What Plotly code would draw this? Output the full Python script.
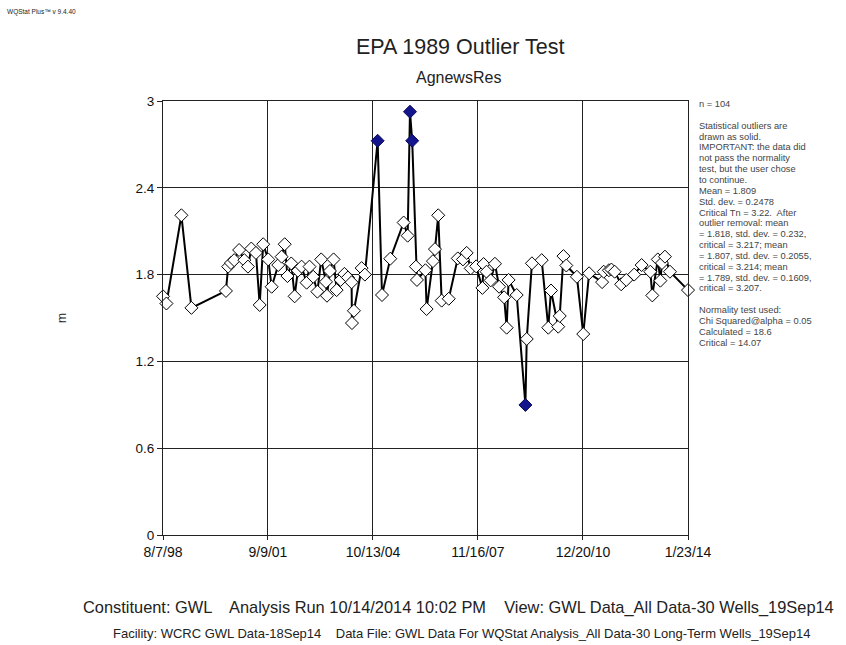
import plotly.graph_objects as go

# Groundwater level observations (m) for well AgnewsRes
dates = [
    "1998-08-07", "1998-09-13", "1999-02-21", "1999-06-09", "2000-06-14",
    "2000-07-08", "2000-08-07", "2000-09-11", "2000-11-03", "2000-12-29",
    "2001-02-06", "2001-03-14", "2001-05-03", "2001-06-12", "2001-07-20",
    "2001-09-12", "2001-10-19", "2001-12-29", "2002-02-03", "2002-03-08",
    "2002-04-07", "2002-05-18", "2002-06-23", "2002-07-28", "2002-09-06",
    "2002-10-30", "2002-11-30", "2003-01-09", "2003-02-23", "2003-04-05",
    "2003-05-26", "2003-06-06", "2003-07-08", "2003-08-16", "2003-09-18",
    "2003-10-31", "2003-12-11", "2004-01-17", "2004-02-26", "2004-03-01",
    "2004-03-22", "2004-06-13", "2004-07-18", "2004-12-02", "2005-01-18",
    "2005-04-17", "2005-09-08", "2005-10-21", "2005-11-15", "2005-12-09",
    "2006-01-18", "2006-01-29", "2006-04-30", "2006-05-13", "2006-07-20",
    "2006-08-11", "2006-09-15", "2006-10-22", "2007-01-06", "2007-04-13",
    "2007-06-08", "2007-07-18", "2007-08-30", "2007-10-28", "2008-01-03",
    "2008-01-16", "2008-02-17", "2008-04-01", "2008-05-17", "2008-07-01",
    "2008-08-24", "2008-09-20", "2008-10-11", "2009-01-06", "2009-04-10",
    "2009-04-24", "2009-06-19", "2009-10-02", "2009-12-12", "2010-01-10",
    "2010-03-29", "2010-04-14", "2010-05-24", "2010-06-24", "2010-10-16",
    "2010-12-23", "2011-02-24", "2011-07-14", "2011-07-31", "2011-09-25",
    "2011-10-22", "2011-11-26", "2012-02-04", "2012-03-30", "2012-06-23",
    "2012-09-11", "2012-12-14", "2013-01-04", "2013-03-04", "2013-04-01",
    "2013-04-18", "2013-05-20", "2013-07-13", "2014-01-23",
]
gwl = [
    1.65, 1.60, 2.21, 1.57, 1.687,
    1.855, 1.88, 1.90, 1.97, 1.90,
    1.855, 1.98, 1.95, 1.59, 2.01,
    1.905, 1.716, 1.866, 1.924, 2.01,
    1.79, 1.877, 1.65, 1.827, 1.855,
    1.744, 1.855, 1.785, 1.682, 1.905,
    1.75, 1.654, 1.825, 1.905, 1.693,
    1.763, 1.805, 1.78, 1.747, 1.465,
    1.55, 1.845, 1.80, 2.725, 1.659,
    1.91, 2.16, 2.069, 2.926, 2.725,
    1.855, 1.763, 1.83, 1.562, 1.893,
    1.976, 2.21, 1.62, 1.633, 1.912,
    1.905, 1.95, 1.843, 1.857, 1.708,
    1.873, 1.82, 1.76, 1.875, 1.716,
    1.643, 1.433, 1.763, 1.659, 0.899,
    1.355, 1.878, 1.90, 1.433, 1.69,
    1.44, 1.514, 1.928, 1.863, 1.785,
    1.389, 1.809, 1.748, 1.82, 1.83,
    1.835, 1.82, 1.733, 1.763, 1.80,
    1.866, 1.82, 1.656, 1.905, 1.758,
    1.88, 1.924, 1.82, 1.693,
]
# Observations flagged by the EPA 1989 outlier test
outlier_dates = ["2004-12-02", "2005-11-15", "2005-12-09", "2009-04-10"]

x_tick_vals = ["1998-08-07", "2001-09-09", "2004-10-13", "2007-11-16", "2010-12-20", "2014-01-23"]
x_tick_text = ["8/7/98", "9/9/01", "10/13/04", "11/16/07", "12/20/10", "1/23/14"]
y_tick_vals = [0, 0.6, 1.2, 1.8, 2.4, 3]
y_tick_text = ["0", "0.6", "1.2", "1.8", "2.4", "3"]

stats_lines = [
    "n = 104",
    "",
    "Statistical outliers are",
    "drawn as solid.",
    "IMPORTANT: the data did",
    "not pass the normality",
    "test, but the user chose",
    "to continue.",
    "Mean = 1.809",
    "Std. dev. = 0.2478",
    "Critical Tn = 3.22.  After",
    "outlier removal: mean",
    "= 1.818, std. dev. = 0.232,",
    "critical = 3.217; mean",
    "= 1.807, std. dev. = 0.2055,",
    "critical = 3.214; mean",
    "= 1.789, std. dev. = 0.1609,",
    "critical = 3.207.",
    "",
    "Normality test used:",
    "Chi Squared@alpha = 0.05",
    "Calculated = 18.6",
    "Critical = 14.07",
]

FONT = "Liberation Sans, Arial, sans-serif"

normal_x = [d for d in dates if d not in outlier_dates]
normal_y = [v for d, v in zip(dates, gwl) if d not in outlier_dates]
out_x = [d for d in dates if d in outlier_dates]
out_y = [v for d, v in zip(dates, gwl) if d in outlier_dates]

fig = go.Figure()
fig.add_trace(go.Scatter(
    x=dates, y=gwl, mode="lines",
    line=dict(color="black", width=2), hoverinfo="skip", showlegend=False,
))
fig.add_trace(go.Scatter(
    x=normal_x, y=normal_y, mode="markers", cliponaxis=False,
    marker=dict(symbol="diamond", size=10, color="white",
                line=dict(color="black", width=1)),
    showlegend=False,
))
fig.add_trace(go.Scatter(
    x=out_x, y=out_y, mode="markers", cliponaxis=False,
    marker=dict(symbol="diamond", size=10, color="#14148c",
                line=dict(color="#0a0a5a", width=1)),
    showlegend=False,
))

# Page layout in pixels
W, H = 846, 645
L, R, T, B = 163, 158, 101, 110
pw, ph = W - L - R, H - T - B


def to_paper(px, py):
    # convert page pixel position to plot-area paper coordinates
    return (px - L) / pw, (H - B - py) / ph


# Header, titles, axis label and footer lines: (text, x, y, size, anchor, angle)
page_texts = [
    ("WQStat Plus\u2122 v 9.4.40", 5, 12, 6.5, "left", 0),
    ("EPA 1989 Outlier Test", 460, 47, 21.5, "center", 0),
    ("AgnewsRes", 458, 77, 16, "center", 0),
    ("m", 62, 318, 12, "center", -90),
    ("Constituent: GWL    Analysis Run 10/14/2014 10:02 PM    View: GWL Data_All Data-30 Wells_19Sep14",
     458, 607, 16.4, "center", 0),
    ("Facility: WCRC GWL Data-18Sep14    Data File: GWL Data For WQStat Analysis_All Data-30 Long-Term Wells_19Sep14",
     461, 633, 13, "center", 0),
]
annotations = []
for text, px, py, size, anchor, angle in page_texts:
    x, y = to_paper(px, py)
    annotations.append(dict(
        text=text, x=x, y=y, xref="paper", yref="paper",
        xanchor=anchor, yanchor="middle", showarrow=False, textangle=angle,
        font=dict(family=FONT, size=size, color="#222"),
    ))

for i, line in enumerate(stats_lines):
    if not line:
        continue
    x, y = to_paper(697, 104 + i * 10.85)
    annotations.append(dict(
        text=line, x=x, y=y, xref="paper", yref="paper",
        xanchor="left", yanchor="middle", showarrow=False,
        font=dict(family=FONT, size=9.3, color="#444"),
    ))

fig.update_layout(
    width=W, height=H,
    margin=dict(l=L, r=R, t=T, b=B),
    paper_bgcolor="white", plot_bgcolor="white",
    font=dict(family=FONT, color="#111"),
    annotations=annotations,
    showlegend=False,
)
fig.update_xaxes(
    type="date", range=["1998-08-07", "2014-01-23"],
    tickmode="array", tickvals=x_tick_vals, ticktext=x_tick_text,
    tickfont=dict(size=14, family=FONT, color="#111"),
    showgrid=True, gridcolor="#222", gridwidth=1,
    showline=True, linecolor="#222", linewidth=1, mirror=True,
    ticks="outside", ticklen=4, tickcolor="#222", zeroline=False,
)
fig.update_yaxes(
    range=[0, 3], tickmode="array", tickvals=y_tick_vals, ticktext=y_tick_text,
    tickfont=dict(size=13.5, family=FONT, color="#111"),
    showgrid=True, gridcolor="#222", gridwidth=1,
    showline=True, linecolor="#222", linewidth=1, mirror=True,
    ticks="outside", ticklen=5, tickcolor="#222", zeroline=False,
)

fig.write_html("out.html")
